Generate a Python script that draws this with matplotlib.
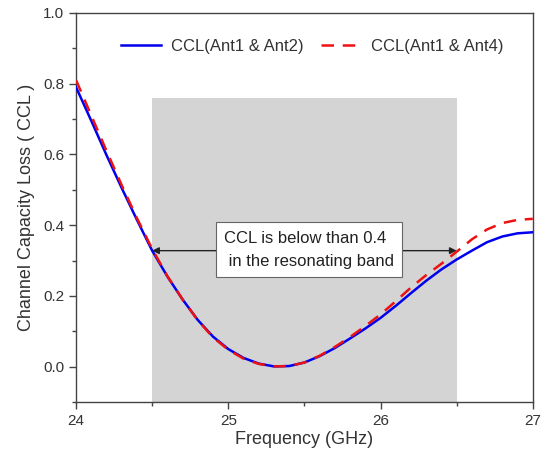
import numpy as np
import matplotlib
matplotlib.use('Agg')
import matplotlib.pyplot as plt
from matplotlib.ticker import MultipleLocator

# ================================
# Data
# ================================
freq = [24.0, 24.1, 24.2, 24.3, 24.4, 24.5, 24.6, 24.7, 24.8, 24.9,
        25.0, 25.1, 25.2, 25.3, 25.4, 25.5, 25.6, 25.7, 25.8, 25.9,
        26.0, 26.1, 26.2, 26.3, 26.4, 26.5, 26.6, 26.7, 26.8, 26.9, 27.0]

ccl_ant12 = [0.790, 0.695, 0.598, 0.505, 0.415, 0.328, 0.255, 0.190, 0.132, 0.085,
             0.050, 0.025, 0.009, 0.001, 0.002, 0.012, 0.030, 0.053, 0.080, 0.108,
             0.138, 0.172, 0.208, 0.243, 0.275, 0.303, 0.328, 0.352, 0.368, 0.377, 0.380]

ccl_ant14 = [0.810, 0.710, 0.610, 0.513, 0.420, 0.333, 0.256, 0.190, 0.131, 0.083,
             0.048, 0.023, 0.008, 0.001, 0.002, 0.012, 0.031, 0.056, 0.084, 0.115,
             0.148, 0.185, 0.224, 0.259, 0.291, 0.325, 0.360, 0.388, 0.406, 0.415, 0.418]

band_start, band_end, band_top = 24.5, 26.5, 0.76
arrow_y = 0.328

plt.rcParams['font.family'] = ['Liberation Sans', 'DejaVu Sans']
text_color = '#333333'

fig = plt.figure(figsize=(5.47, 4.57), dpi=100)
ax = fig.add_axes([0.139, 0.120, 0.835, 0.852])

# resonating band shading
ax.fill_between([band_start, band_end], -0.1, band_top, color='#d4d4d4', lw=0, zorder=0)

ax.plot(freq, ccl_ant12, color='#0000ee', lw=1.8, label='CCL(Ant1 & Ant2)', zorder=3)
ax.plot(freq, ccl_ant14, color='#ee1111', lw=1.8, dashes=(5, 3.5),
        label='CCL(Ant1 & Ant4)', zorder=4)

# double arrow across the band + text box
ax.annotate('', xy=(band_start, arrow_y), xytext=(band_end, arrow_y),
            arrowprops=dict(arrowstyle='<|-|>', color='#222222', lw=1.0,
                            mutation_scale=10, shrinkA=0, shrinkB=0), zorder=2)
ax.text(25.53, 0.33, 'CCL is below than 0.4\n in the resonating band',
        ha='center', va='center', multialignment='left', fontsize=12,
        color='#222222', linespacing=1.7, zorder=5,
        bbox=dict(boxstyle='square,pad=0.5', fc='white', ec='#666666', lw=0.8))

ax.set_xlim(24, 27)
ax.set_ylim(-0.1, 1.0)
ax.xaxis.set_major_locator(MultipleLocator(1))
ax.xaxis.set_minor_locator(MultipleLocator(0.5))
ax.set_yticks([0.0, 0.2, 0.4, 0.6, 0.8, 1.0])
ax.yaxis.set_minor_locator(MultipleLocator(0.1))

ax.tick_params(which='both', direction='out', colors='#444444', labelcolor=text_color,
               top=False, right=False, labelsize=11)
ax.tick_params(which='major', length=5, width=1)
ax.tick_params(which='minor', length=3, width=1)
for s in ax.spines.values():
    s.set_color('#444444')
    s.set_linewidth(1.0)

ax.set_xlabel('Frequency (GHz)', fontsize=13, color=text_color, labelpad=2)
ax.set_ylabel('Channel Capacity Loss ( CCL )', fontsize=13, color=text_color, labelpad=6)

leg = ax.legend(ncol=2, frameon=False, loc='center', bbox_to_anchor=(0.517, 0.913),
                fontsize=12, handlelength=2.4, handletextpad=0.6, columnspacing=1.0)
for t in leg.get_texts():
    t.set_color(text_color)

fig.savefig('out.png', dpi=100)
